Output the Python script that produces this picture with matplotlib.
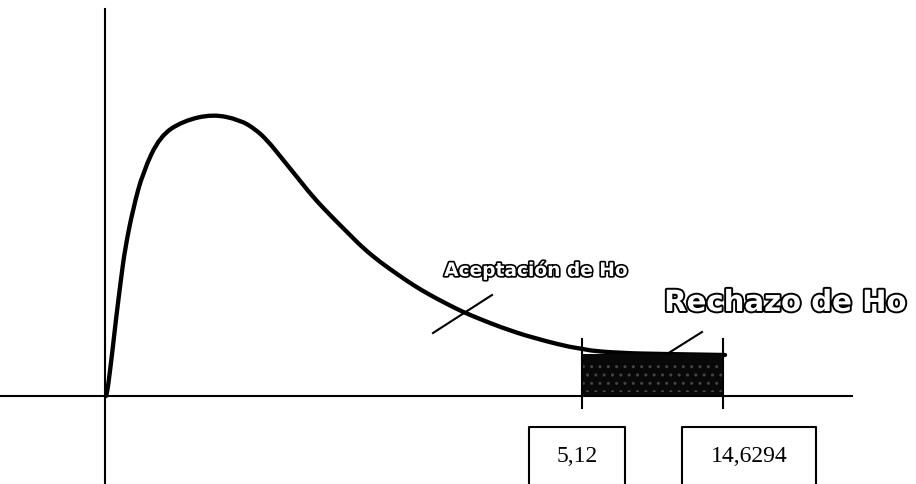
import matplotlib
matplotlib.use('Agg')
import matplotlib.pyplot as plt
import matplotlib.patheffects as pe
from matplotlib.path import Path
from matplotlib.patches import PathPatch

# curve (units: px right of / above the axes origin)
curve_x = [1, 2, 5, 8, 11, 16, 20, 28, 38, 55, 78, 108, 135, 150, 162, 175, 192, 208, 225, 242,
           258, 275, 292, 308, 325, 342, 358, 375, 395, 428, 477, 515, 555, 620]
curve_y = [0, 2, 25, 50, 77, 117, 147, 187, 224, 260, 275, 282, 276, 267, 256, 240, 219, 199, 181, 164,
           148, 134, 122, 111, 101, 92, 84, 77, 69, 58, 46, 43, 42, 41]

# critical values and where they sit on the drawing
crit_labels = ['5,12', '14,6294']
crit_pos = [477, 618]

region_top = 42          # height of the shaded rejection block

fig = plt.figure(figsize=(9.16, 4.85), dpi=100)
ax = fig.add_axes([0, 0, 1, 1])
ax.set_xlim(-105, 811)
ax.set_ylim(-88, 397)
ax.axis('off')

# axes of the sketch
ax.plot([-105, 747], [0, 0], color='black', lw=1.5)
ax.plot([0, 0], [-88, 387], color='black', lw=1.5)

# density curve, smoothed with quadratic beziers through the read points
pts = list(zip(curve_x, curve_y))
verts = [pts[0]]
codes = [Path.MOVETO]
for i in range(1, len(pts) - 2):
    mid = ((pts[i][0] + pts[i + 1][0]) / 2, (pts[i][1] + pts[i + 1][1]) / 2)
    verts += [pts[i], mid]
    codes += [Path.CURVE3, Path.CURVE3]
verts += [pts[-2], pts[-1]]
codes += [Path.CURVE3, Path.CURVE3]
ax.add_patch(PathPatch(Path(verts, codes), facecolor='none', edgecolor='black',
                       lw=3.1, capstyle='round'))

# rejection region
ax.fill_between(crit_pos, 0, region_top, color='#080808', lw=0)
ax.fill_between(crit_pos, 4, region_top - 6, facecolor='none', edgecolor='#444444',
                hatch='..', lw=0)
for xc in crit_pos:
    ax.plot([xc, xc], [-12, 57], color='black', lw=1.5)

# boxes with the critical values
for xc, lab in zip(crit_pos, crit_labels):
    w = 96 if lab == '5,12' else 134
    left = xc - 53 if lab == '5,12' else xc - 41
    ax.plot([left, left, left + w, left + w], [-90, -31, -31, -90], color='black', lw=1.5)
    ax.text(left + w / 2, -60, lab, ha='center', va='center', fontsize=17,
            family='Liberation Serif')

# acceptance label and its mark
ax.plot([328, 387], [63, 101], color='black', lw=1.5)
ax.text(431, 126, 'Aceptación de Ho', ha='center', va='center', fontsize=13.4,
        weight='bold', family='DejaVu Sans', color='white',
        path_effects=[pe.Stroke(linewidth=2.4, foreground='black'), pe.Normal()])

# rejection label and its pointer
ax.plot([562, 597], [42, 64], color='black', lw=1.5)
ax.text(680, 93, 'Rechazo de Ho', ha='center', va='center', fontsize=21,
        weight='bold', family='DejaVu Sans', color='white',
        path_effects=[pe.Stroke(linewidth=2.8, foreground='black'), pe.Normal()])

fig.savefig('out.png', dpi=100)
